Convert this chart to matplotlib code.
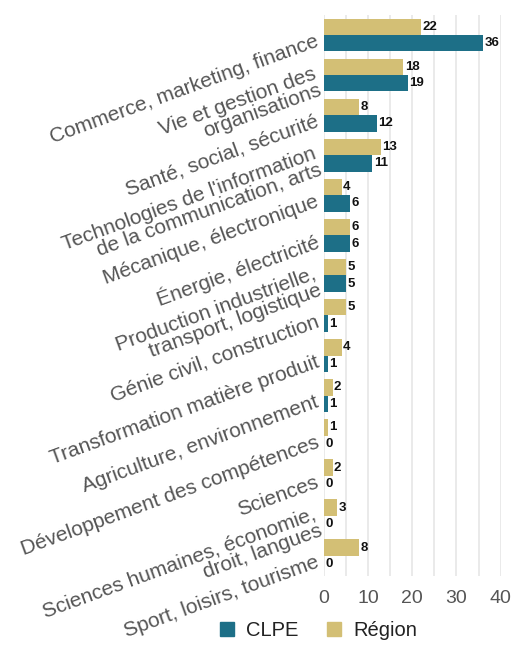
import numpy as np
import matplotlib.pyplot as plt
from matplotlib.patches import Patch

plt.rcParams["font.family"] = ["Liberation Sans", "DejaVu Sans"]

categories = [
    "Commerce, marketing, finance",
    "Vie et gestion des\norganisations",
    "Santé, social, sécurité",
    "Technologies de l'information\nde la communication, arts",
    "Mécanique, électronique",
    "Énergie, électricité",
    "Production industrielle,\ntransport, logistique",
    "Génie civil, construction",
    "Transformation matière produit",
    "Agriculture, environnement",
    "Développement des compétences",
    "Sciences",
    "Sciences humaines, économie,\ndroit, langues",
    "Sport, loisirs, tourisme",
]
region = [22, 18, 8, 13, 4, 6, 5, 5, 4, 2, 1, 2, 3, 8]
clpe = [36, 19, 12, 11, 6, 6, 5, 1, 1, 1, 0, 0, 0, 0]

teal = "#1d6f87"
tan = "#d3bf75"

fig = plt.figure(figsize=(5.14, 6.5), dpi=100)
ax = fig.add_axes([0.630, 0.114, 0.344, 0.863])

y = np.arange(len(categories))
h = 0.41
ax.barh(y - h / 2, region, height=h, color=tan, zorder=2)
ax.barh(y + h / 2, clpe, height=h, color=teal, zorder=2)

for yi, r, c in zip(y, region, clpe):
    ax.text(r + 0.3, yi - h / 2, str(r), va="center", ha="left",
            fontsize=9.5, fontweight="bold", color="#111111")
    ax.text(c + 0.3, yi + h / 2, str(c), va="center", ha="left",
            fontsize=9.5, fontweight="bold", color="#111111")

ax.set_ylim(len(categories) - 0.5, -0.5)
ax.set_xlim(0, 40)
ax.set_xticks([0, 10, 20, 30, 40])
ax.set_xticks(np.arange(5, 40, 10), minor=True)
ax.grid(axis="x", which="both", color="#e6e6e6", linewidth=1.2, zorder=0)
ax.tick_params(axis="x", which="both", length=0, labelsize=14,
               labelcolor="#555555", pad=10)
ax.tick_params(axis="y", length=0, pad=4)
ax.set_yticks(y + 0.15)
ax.set_yticklabels(categories, rotation=20, fontsize=15, color="#555555",
                   rotation_mode="anchor", ha="right", va="center",
                   multialignment="right", linespacing=0.88)
for s in ax.spines.values():
    s.set_visible(False)

handles = [Patch(color=teal, label="CLPE"), Patch(color=tan, label="Région")]
fig.legend(handles=handles, loc="lower center", bbox_to_anchor=(0.62, -0.012),
           ncol=2, frameon=False, fontsize=14.5, handlelength=0.7,
           handleheight=0.7, columnspacing=1.4, handletextpad=0.6,
           labelcolor="#222222")

fig.savefig("out.png", dpi=100, facecolor="white")
